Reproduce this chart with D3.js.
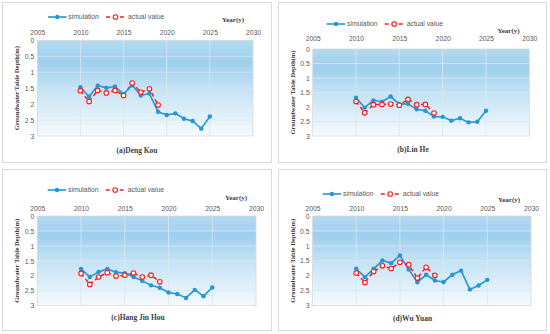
<!DOCTYPE html>
<html><head><meta charset="utf-8">
<script src="https://cdnjs.cloudflare.com/ajax/libs/d3/7.8.5/d3.min.js"></script>
<style>
html,body{margin:0;padding:0;background:#fff;}
svg{display:block;}
.tick text{font-family:"Liberation Sans",Arial,sans-serif;fill:#595959;}
</style></head>
<body>
<script>
// ---- data ----
const simYears = [2010,2011,2012,2013,2014,2015,2016,2017,2018,2019,2020,2021,2022,2023,2024,2025];
const actYears = [2010,2011,2012,2013,2014,2015,2016,2017,2018,2019];
const xTickValues = [2005,2010,2015,2020,2025,2030];
const yTickValues = [0,0.5,1,1.5,2,2.5,3];
const panelTitles = ["(a)Deng Kou","(b)Lin He","(c)Hang Jin Hou","(d)Wu Yuan"];
const seriesNames = ["simulation","actual value"];
const dengKouSim = [1.47,1.77,1.42,1.49,1.45,1.69,1.41,1.73,1.67,2.24,2.34,2.29,2.46,2.53,2.77,2.39];
const dengKouAct = [1.58,1.92,1.57,1.65,1.57,1.73,1.34,1.63,1.52,2.03];
const linHeSim = [1.68,2.02,1.77,1.82,1.64,1.90,1.89,2.08,2.13,2.33,2.34,2.47,2.39,2.53,2.51,2.13];
const linHeAct = [1.81,2.20,1.92,1.91,1.90,1.94,1.74,1.92,1.91,2.21];
const hangJinHouSim = [1.77,2.04,1.87,1.77,1.88,1.91,2.04,2.17,2.32,2.40,2.56,2.61,2.74,2.47,2.68,2.39];
const hangJinHouAct = [1.92,2.29,2.04,1.90,2.01,1.98,1.91,2.04,1.98,2.20];
const wuYuanSim = [1.77,2.05,1.77,1.49,1.58,1.32,1.79,2.22,1.97,2.16,2.21,1.97,1.83,2.46,2.33,2.14];
const wuYuanAct = [1.91,2.23,1.86,1.67,1.76,1.55,1.63,2.08,1.72,1.99];

const simData = [dengKouSim, linHeSim, hangJinHouSim, wuYuanSim];
const actData = [dengKouAct, linHeAct, hangJinHouAct, wuYuanAct];

// ---- layout (positions only) ----
const layouts = [
  {box:[2,2,269,160], x0:37.3, x1:253, y0:40.3, y1:136, legY:17, yearX:233, yearY:20, tickY:32, titleX:137, titleY:150, legX:48},
  {box:[278,2,268,160], x0:312.7, x1:529.3, y0:49, y1:136, legY:24, yearX:508.5, yearY:31, tickY:38, titleX:413, titleY:149, legX:326.7},
  {box:[2,169,269,161], x0:37.3, x1:256, y0:216, y1:305.7, legY:190, yearX:236, yearY:198, tickY:208, titleX:138, titleY:317.7, legX:47.7},
  {box:[278,169,268,161], x0:312.5, x1:531, y0:216, y1:305.5, legY:194, yearX:509, yearY:200, tickY:208, titleX:412.5, titleY:318, legX:322.7}
];

const BLUE = "#2196d8", RED = "#ff1a1a";

const svg = d3.select("body").append("svg").attr("width",550).attr("height",334);
const defs = svg.append("defs");
const grad = defs.append("linearGradient").attr("id","bg").attr("x1",0).attr("y1",0).attr("x2",0).attr("y2",1);
[[0,"#b4d9f1"],[0.22,"#9dcfee"],[0.5,"#c3e2f5"],[1,"#f6fafd"]].forEach(s=>grad.append("stop").attr("offset",s[0]).attr("stop-color",s[1]));

layouts.forEach((L,i)=>{
  const g = svg.append("g");
  g.append("rect").attr("x",L.box[0]+0.5).attr("y",L.box[1]+0.5).attr("width",L.box[2]).attr("height",L.box[3])
    .attr("fill","#fff").attr("stroke","#d9d9d9").attr("stroke-width",1);

  const x = d3.scaleLinear().domain([2005,2030]).range([L.x0,L.x1]);
  const y = d3.scaleLinear().domain([0,3]).range([L.y0,L.y1]);

  g.append("rect").attr("x",L.x0).attr("y",L.y0).attr("width",L.x1-L.x0).attr("height",L.y1-L.y0)
    .attr("fill","url(#bg)").attr("stroke","#d9d9d9").attr("stroke-width",0.8);

  // grid
  g.selectAll(".hg").data(yTickValues.slice(1,-1)).enter().append("line")
    .attr("x1",L.x0).attr("x2",L.x1).attr("y1",d=>y(d)).attr("y2",d=>y(d))
    .attr("stroke","#dde6ee").attr("stroke-width",0.8);
  g.selectAll(".vg").data(xTickValues.slice(1,-1)).enter().append("line")
    .attr("y1",L.y0).attr("y2",L.y1).attr("x1",d=>x(d)).attr("x2",d=>x(d))
    .attr("stroke","#dde6ee").attr("stroke-width",0.8);

  // axes
  const xa = g.append("g").attr("transform",`translate(0,${L.tickY+3})`)
    .call(d3.axisTop(x).tickValues(xTickValues).tickSize(0).tickPadding(0).tickFormat(d3.format("d")));
  xa.select(".domain").remove();
  xa.selectAll("text").attr("font-size",6.8);
  const ya = g.append("g").attr("transform",`translate(${L.x0-3},0)`)
    .call(d3.axisLeft(y).tickValues(yTickValues).tickSize(0).tickPadding(0).tickFormat(d=>String(d)));
  ya.select(".domain").remove();
  ya.selectAll("text").attr("font-size",6.8);

  // labels
  g.append("text").attr("x",L.yearX).attr("y",L.yearY).attr("text-anchor","middle").attr("dy","0.35em")
    .attr("font-family","Liberation Serif,Times New Roman,serif").attr("font-weight","bold").attr("font-size",7)
    .attr("fill","#404040").text("Year(y)");
  g.append("text").attr("transform",`translate(${L.box[0]+15},${(L.y0+L.y1)/2}) rotate(-90)`).attr("text-anchor","middle").attr("dy","0.35em")
    .attr("font-family","Liberation Serif,Times New Roman,serif").attr("font-weight","bold").attr("font-size",6.6)
    .attr("fill","#404040").text("Groundwater Table Depth(m)");
  g.append("text").attr("x",L.titleX).attr("y",L.titleY).attr("text-anchor","middle").attr("dy","0.35em")
    .attr("font-family","Liberation Serif,Times New Roman,serif").attr("font-weight","bold").attr("font-size",7.5)
    .attr("fill","#404040").text(panelTitles[i]);

  // legend
  const lg = g.append("g").attr("transform",`translate(${L.legX},${L.legY})`);
  lg.append("line").attr("x1",0).attr("x2",18.5).attr("y1",0).attr("y2",0).attr("stroke",BLUE).attr("stroke-width",1.6);
  lg.append("circle").attr("cx",9.25).attr("cy",0).attr("r",2.2).attr("fill",BLUE);
  lg.append("text").attr("x",20.3).attr("y",0).attr("dy","0.35em").attr("font-family","Liberation Sans,Arial,sans-serif")
    .attr("font-size",6.8).attr("fill","#595959").text(seriesNames[0]);
  lg.append("line").attr("x1",58).attr("x2",78).attr("y1",0).attr("y2",0).attr("stroke",RED).attr("stroke-width",1.5).attr("stroke-dasharray","4,3");
  lg.append("circle").attr("cx",67.5).attr("cy",0).attr("r",2.3).attr("fill","#fff").attr("stroke",RED).attr("stroke-width",1.1);
  lg.append("text").attr("x",80).attr("y",0).attr("dy","0.35em").attr("font-family","Liberation Sans,Arial,sans-serif")
    .attr("font-size",6.8).attr("fill","#595959").text(seriesNames[1]);

  // series
  const sim = simYears.map((yr,k)=>[yr,simData[i][k]]);
  const act = actYears.map((yr,k)=>[yr,actData[i][k]]);
  const line = d3.line().x(d=>x(d[0])).y(d=>y(d[1]));
  g.append("path").datum(act).attr("d",line).attr("fill","none").attr("stroke",RED).attr("stroke-width",1.5).attr("stroke-dasharray","4,3");
  g.append("path").datum(sim).attr("d",line).attr("fill","none").attr("stroke",BLUE).attr("stroke-width",1.6);
  g.selectAll(".sp").data(sim).enter().append("circle").attr("cx",d=>x(d[0])).attr("cy",d=>y(d[1])).attr("r",2.2).attr("fill",BLUE);
  g.selectAll(".ap").data(act).enter().append("circle").attr("cx",d=>x(d[0])).attr("cy",d=>y(d[1])).attr("r",2.3)
    .attr("fill","#fff").attr("stroke",RED).attr("stroke-width",1.1);
});
</script>
</body></html>
